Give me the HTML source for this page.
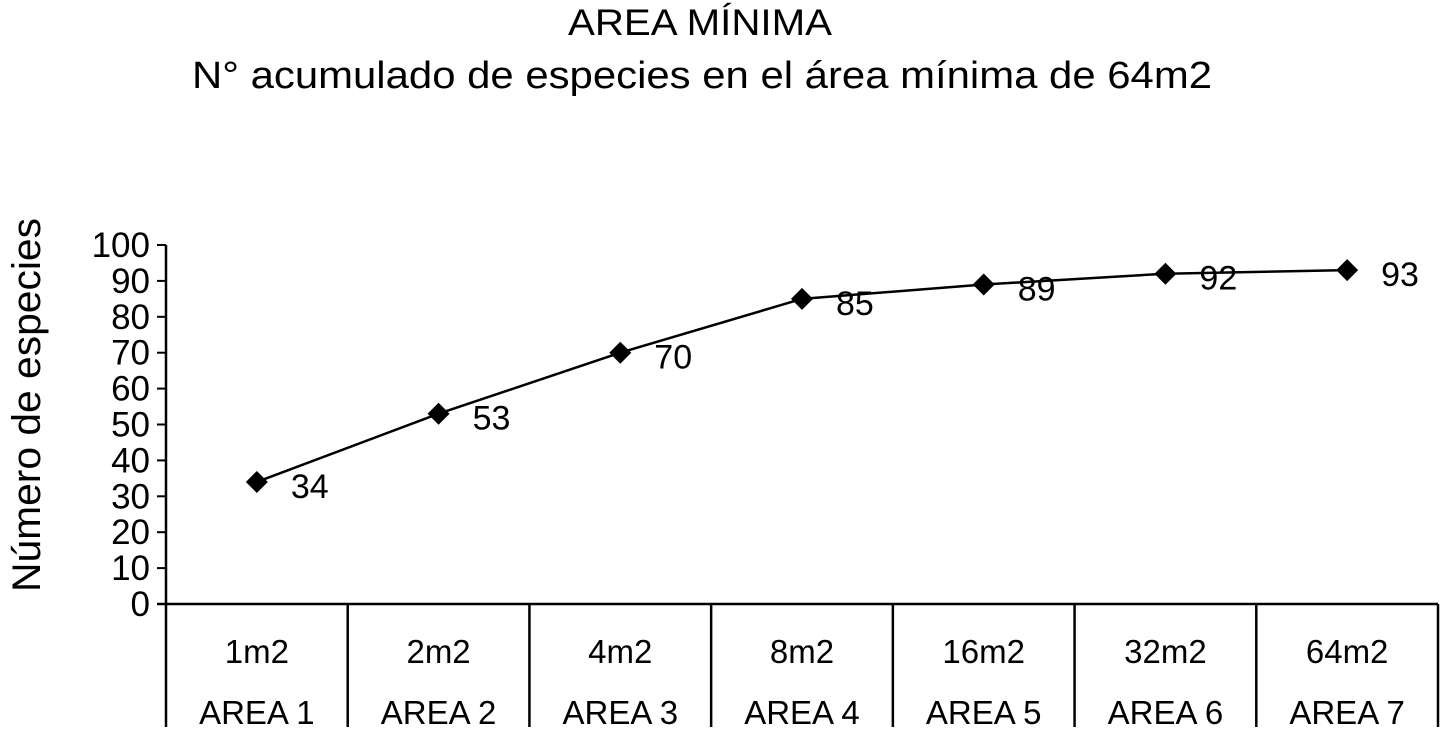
<!DOCTYPE html>
<html><head><meta charset="utf-8"><style>
body{margin:0;background:#fff;width:1444px;height:736px;overflow:hidden}
svg text{font-family:"Liberation Sans",sans-serif;fill:#000}
</style></head><body>
<svg id="c" width="1444" height="736">
<text x="700" y="35" style="font-size:37px" text-anchor="middle" textLength="264" lengthAdjust="spacingAndGlyphs">AREA MÍNIMA</text>
<text x="192" y="88" style="font-size:38px" textLength="1020" lengthAdjust="spacingAndGlyphs">N°  acumulado de especies en el área mínima  de 64m2</text>
<text transform="translate(40,405) rotate(-90)" style="font-size:40px" text-anchor="middle" textLength="374" lengthAdjust="spacingAndGlyphs">Número de especies</text>
<g id="g"></g>
</svg>
<script>
const cats=["1m2","2m2","4m2","8m2","16m2","32m2","64m2"];
const areas=["AREA 1","AREA 2","AREA 3","AREA 4","AREA 5","AREA 6","AREA 7"];
const values=[34,53,70,85,89,92,93];
const yTicks=[0,10,20,30,40,50,60,70,80,90,100];
const g=document.getElementById('g');
const NS='http://www.w3.org/2000/svg';
const x0=166,x1=1438,y0=604,y100=245;
const bw=(x1-x0)/cats.length;
const X=i=>x0+bw*(i+0.5);
const Y=v=>y0-(v/100)*(y0-y100);
function mk(t,a){const e=document.createElementNS(NS,t);for(const k in a)e.setAttribute(k,a[k]);g.appendChild(e);return e;}
let e=mk('line',{x1:x0,y1:Y(100),x2:x0,y2:727,stroke:'#000','stroke-width':2.5});


e=mk('line',{x1:157,y1:y0,x2:x1,y2:y0,stroke:'#000','stroke-width':2.5});


yTicks.forEach(v=>{
 let t=mk('line',{x1:157,y1:Y(v),x2:x0,y2:Y(v),stroke:'#000','stroke-width':2});
 
 
 let l=mk('text',{x:150,y:Y(v)+12,style:'font-size:35px','text-anchor':'end'});l.textContent=v;
 
 
});
cats.forEach((c,i)=>{
 let s=mk('line',{x1:x0+bw*(i+1),y1:y0,x2:x0+bw*(i+1),y2:727,stroke:'#000','stroke-width':2.5});
 
 
 let l=mk('text',{x:X(i),y:663,style:'font-size:33px','text-anchor':'middle'});l.textContent=c;
 
 
 let a=mk('text',{x:X(i),y:724,style:'font-size:33px','text-anchor':'middle'});a.textContent=areas[i];
 
 
});
let p=mk('polyline',{points:values.map((v,i)=>X(i)+','+Y(v)).join(' '),fill:'none',stroke:'#000','stroke-width':2.5});


values.forEach((v,i)=>{
 const cx=X(i),cy=Y(v);
 let m=mk('polygon',{points:`${cx},${cy-11} ${cx+11},${cy} ${cx},${cy+11} ${cx-11},${cy}`,fill:'#000'});
 
 
 let l=mk('text',{x:cx+34,y:cy+16,style:'font-size:34px'});l.textContent=v;
 
 
});
</script>
</body></html>
